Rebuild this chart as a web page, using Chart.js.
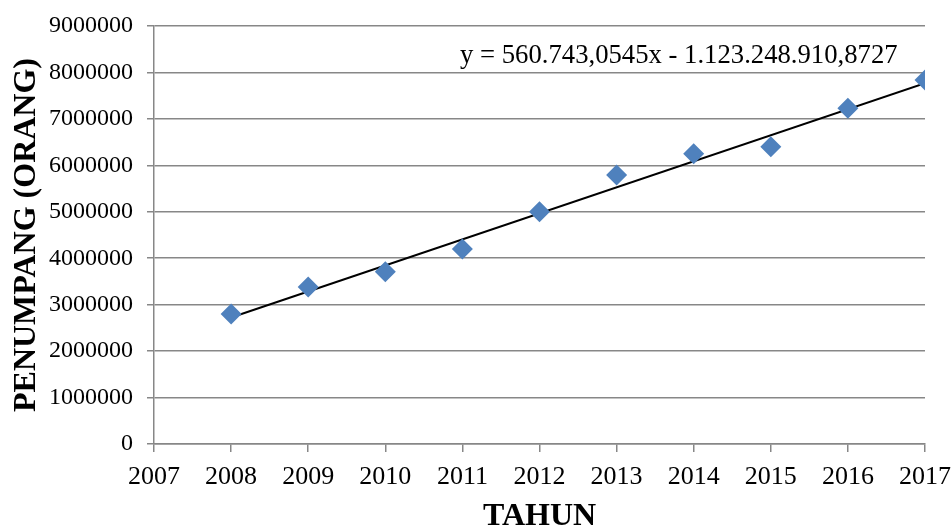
<!DOCTYPE html>
<html>
<head>
<meta charset="utf-8">
<script src="https://cdn.jsdelivr.net/npm/chart.js@4/dist/chart.umd.min.js"></script>
<style>
  html, body { margin: 0; padding: 0; background: #ffffff; }
  #wrap { width: 952px; height: 530px; }
</style>
</head>
<body>
<div id="wrap"><canvas id="c" width="952" height="530"></canvas></div>
<script>
// ---- data ----
const years = [2008, 2009, 2010, 2011, 2012, 2013, 2014, 2015, 2016, 2017];
const passengers = [2800000, 3380000, 3710000, 4200000, 5000000, 5790000, 6250000, 6400000, 7230000, 7840000];
// linear trendline as printed on the chart
const trendSlope = 560743.0545;
const trendIntercept = -1123248910.8727;
const trendLabel = 'y = 560.743,0545x - 1.123.248.910,8727';
const xTickMin = 2007, xTickMax = 2017;
const yTickMin = 0, yTickMax = 9000000, yTickStep = 1000000;
const xTitle = 'TAHUN';
const yTitle = 'PENUMPANG (ORANG)';

const trendPoints = [years[0], years[years.length - 1]].map(x => ({ x: x, y: trendSlope * x + trendIntercept }));
const scatterPoints = years.map((x, i) => ({ x: x, y: passengers[i] }));

const FONT = "'Liberation Serif', 'Times New Roman', serif";
const GRID = '#878787';

const eqPlugin = {
  id: 'eq',
  afterDatasetsDraw(chart) {
    const { ctx, chartArea } = chart;
    ctx.save();
    ctx.font = '26.7px ' + FONT;
    ctx.fillStyle = '#000';
    ctx.textAlign = 'left';
    ctx.textBaseline = 'alphabetic';
    ctx.fillText(trendLabel, chartArea.left + 306, chartArea.top + 37);
    ctx.restore();
  }
};

new Chart(document.getElementById('c'), {
  type: 'scatter',
  data: {
    datasets: [
      {
        type: 'line',
        label: 'trend',
        data: trendPoints,
        borderColor: '#000000',
        borderWidth: 2,
        pointRadius: 0,
        fill: false,
        order: 2
      },
      {
        label: 'penumpang',
        data: scatterPoints,
        pointStyle: 'rectRot',
        pointRadius: 10.5,
        pointHoverRadius: 10.5,
        backgroundColor: '#4F81BD',
        borderColor: '#4F81BD',
        borderWidth: 0,
        order: 1
      }
    ]
  },
  options: {
    responsive: false,
    animation: false,
    devicePixelRatio: 1,
    layout: { padding: { top: 26, right: 27, left: 0, bottom: 0 } },
    plugins: { legend: { display: false }, tooltip: { enabled: false } },
    scales: {
      x: {
        type: 'linear',
        min: xTickMin,
        max: xTickMax,
        ticks: {
          stepSize: 1,
          color: '#000',
          font: { family: FONT, size: 26 },
          padding: 10,
          callback: v => String(v),
          maxRotation: 0
        },
        grid: { drawOnChartArea: false, drawTicks: true, tickLength: 8, color: GRID, lineWidth: 1.5 },
        border: { display: true, color: GRID, width: 1.5 },
        title: {
          display: true,
          text: xTitle,
          color: '#000',
          font: { family: FONT, size: 32, weight: 'bold', lineHeight: 0.8 },
          padding: 0
        },
        afterFit(scale) { scale.height = 86; scale.paddingRight = 0; scale.paddingLeft = 0; }
      },
      y: {
        type: 'linear',
        min: yTickMin,
        max: yTickMax,
        ticks: {
          stepSize: yTickStep,
          color: '#000',
          font: { family: FONT, size: 24 },
          padding: 14,
          callback: v => String(v)
        },
        grid: { drawOnChartArea: true, drawTicks: true, tickLength: 7, color: GRID, lineWidth: 1.5 },
        border: { display: true, color: GRID, width: 1.5 },
        title: {
          display: true,
          text: yTitle,
          color: '#000',
          font: { family: FONT, size: 32, weight: 'bold', lineHeight: 1.2 },
          padding: { top: 8, bottom: 0 }
        },
        afterFit(scale) { scale.width = 154; scale.paddingTop = 0; scale.paddingBottom = 0; }
      }
    }
  },
  plugins: [eqPlugin]
});
</script>
</body>
</html>
